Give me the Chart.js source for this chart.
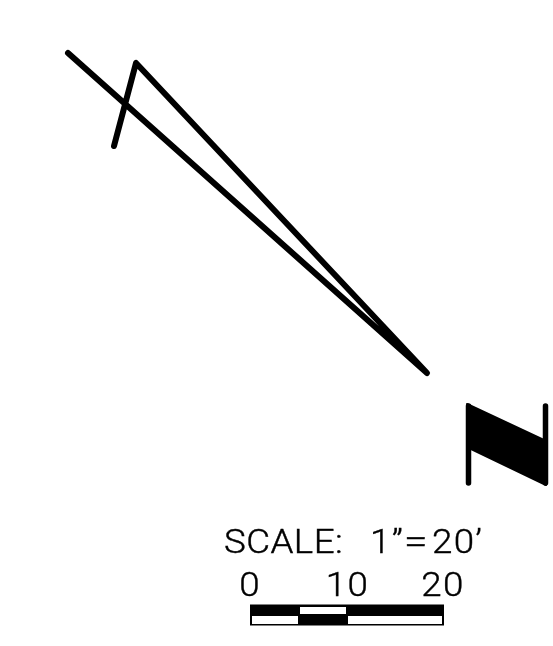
<!DOCTYPE html>
<html><head><meta charset="utf-8">
<style>html,body{margin:0;padding:0;background:#fff}#w{width:553px;height:646px;position:relative}</style>
<script src="https://cdn.jsdelivr.net/npm/chart.js@4"></script>
</head><body><div id="w"><canvas id="c"></canvas></div>
<script>
const traverseX=[68,427,136,114];
const traverseY=[53,373,63,146];
const northTopX=[467,546];
const northTopY=[404,441];
const northBottomX=[469,546];
const northBottomY=[448,485];
const northLeftX=[468.5,468.5];
const northLeftY=[406,483];
const northRightX=[545.5,545.5];
const northRightY=[406,483];
const barOuterX=[250,444];
const barTopY=[604.5,614.5];
const barBottomY=[614.5,625.5];
const barTopWhiteX=[300,346];
const barBottomWhiteLeftX=[252,298];
const barBottomWhiteRightX=[348,442];
const scaleTickValues=[250,347.5,443];
const scaleTickLabels=['0','10','20'];
const titleParts=['SCALE:','1”','=','20’'];
const titlePartX=[224,370,404,432];

const pts=(xs,ys)=>xs.map((x,i)=>({x,y:ys[i]}));
const seg=(xs,y)=>xs.map(x=>({x,y}));
const base={showLine:true,pointRadius:0,tension:0,fill:false,borderColor:'#000',borderCapStyle:'round',borderJoinStyle:'round'};
const bar=(data,color,w,order)=>({...base,data,borderColor:color,borderWidth:w,borderCapStyle:'butt',order});

const textPlugin={id:'texts',afterDatasetsDraw(ch){
  const {ctx,scales:{x,y}}=ch;
  ctx.save();ctx.fillStyle='#000';ctx.strokeStyle='#000';ctx.lineWidth=0.4;ctx.textBaseline='alphabetic';
  ctx.font='300 34px "Roboto","Open Sans",sans-serif';
  ctx.textAlign='left';
  const put=(t,px,py,sx)=>{ctx.save();ctx.translate(px,py);ctx.scale(sx,1);ctx.fillText(t,0,0);ctx.strokeText(t,0,0);ctx.restore();};
  titleParts.forEach((t,i)=>{
    ctx.letterSpacing=i===0?'0.4px':'1.2px';
    put(t,x.getPixelForValue(titlePartX[i]),y.getPixelForValue(553),i===2?1.25:1.08);
  });
  ctx.letterSpacing='1.2px';
  ctx.textAlign='center';
  scaleTickLabels.forEach((t,i)=>put(t,x.getPixelForValue(scaleTickValues[i]),y.getPixelForValue(596),1.08));
  ctx.restore();
}};

new Chart(document.getElementById('c'),{
  type:'scatter',
  data:{datasets:[
    {...base,data:pts(traverseX,traverseY),borderWidth:6},
    {...base,data:pts(northTopX,northTopY),borderWidth:2,fill:'+1',backgroundColor:'#000'},
    {...base,data:pts(northBottomX,northBottomY),borderWidth:2},
    {...base,data:pts(northLeftX,northLeftY),borderWidth:5.5},
    {...base,data:pts(northRightX,northRightY),borderWidth:5.5},
    bar(seg(barTopWhiteX,610.5),'#fff',7,-1),
    bar(seg(barBottomWhiteLeftX,620),'#fff',8,-1),
    bar(seg(barBottomWhiteRightX,620),'#fff',8,-1),
    bar(seg(barOuterX,(barTopY[0]+barBottomY[1])/2),'#000',21,1)
  ]},
  options:{
    responsive:true,maintainAspectRatio:false,animation:false,
    layout:{padding:0},
    plugins:{legend:{display:false},tooltip:{enabled:false},title:{display:false}},
    scales:{
      x:{type:'linear',min:0,max:553,display:false},
      y:{type:'linear',min:0,max:646,reverse:true,display:false}
    }
  },
  plugins:[textPlugin]
});
</script></body></html>
